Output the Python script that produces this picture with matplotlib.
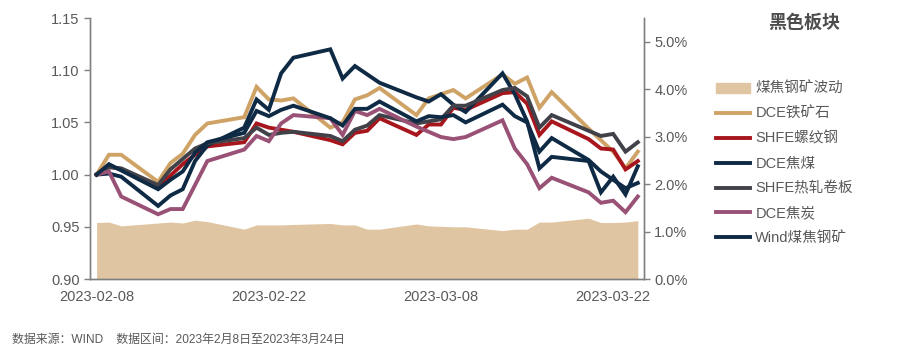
import matplotlib
matplotlib.use("Agg")
import matplotlib.pyplot as plt
import matplotlib.dates as mdates
from matplotlib.patches import Patch
import pandas as pd

plt.rcParams['font.family'] = ['Liberation Sans', 'Noto Sans CJK SC', 'DejaVu Sans']

dates = ["2023-02-08", "2023-02-09", "2023-02-10", "2023-02-13", "2023-02-14", "2023-02-15",
         "2023-02-16", "2023-02-17", "2023-02-20", "2023-02-21", "2023-02-22", "2023-02-23",
         "2023-02-24", "2023-02-27", "2023-02-28", "2023-03-01", "2023-03-02", "2023-03-03",
         "2023-03-06", "2023-03-07", "2023-03-08", "2023-03-09", "2023-03-10", "2023-03-13",
         "2023-03-14", "2023-03-15", "2023-03-16", "2023-03-17", "2023-03-20", "2023-03-21",
         "2023-03-22", "2023-03-23", "2023-03-24"]

# 煤焦钢矿波动 (%)
vol = [1.19, 1.20, 1.12, 1.18, 1.20, 1.18, 1.24, 1.21, 1.05, 1.14, 1.14, 1.14,
       1.15, 1.17, 1.14, 1.14, 1.05, 1.05, 1.16, 1.12, 1.11, 1.10, 1.10, 1.02,
       1.05, 1.05, 1.20, 1.20, 1.28, 1.19, 1.19, 1.20, 1.23]

iron_ore = [1.000, 1.019, 1.019, 0.993, 1.011, 1.020, 1.038, 1.049, 1.055, 1.084, 1.072, 1.071,
            1.073, 1.045, 1.050, 1.072, 1.076, 1.083, 1.057, 1.073, 1.077, 1.081, 1.073, 1.096,
            1.087, 1.093, 1.064, 1.079, 1.044, 1.033, 1.022, 1.006, 1.022]

rebar = [1.000, 1.008, 1.005, 0.988, 0.999, 1.010, 1.019, 1.027, 1.031, 1.049, 1.045, 1.043,
         1.041, 1.033, 1.029, 1.040, 1.042, 1.054, 1.038, 1.048, 1.048, 1.064, 1.062, 1.078,
         1.079, 1.068, 1.038, 1.051, 1.034, 1.025, 1.024, 1.005, 1.013]

coking_coal = [1.000, 1.001, 0.998, 0.970, 0.980, 0.986, 1.013, 1.028, 1.045, 1.072, 1.062, 1.097,
               1.112, 1.120, 1.092, 1.104, 1.096, 1.088, 1.074, 1.070, 1.077, 1.067, 1.060, 1.097,
               1.077, 1.051, 1.006, 1.017, 1.013, 0.983, 0.998, 0.981, 1.008]

hot_coil = [1.000, 1.007, 1.006, 0.990, 1.005, 1.015, 1.025, 1.030, 1.035, 1.045, 1.038, 1.040,
            1.041, 1.037, 1.032, 1.043, 1.047, 1.057, 1.049, 1.051, 1.053, 1.066, 1.066, 1.081,
            1.083, 1.075, 1.045, 1.057, 1.042, 1.037, 1.039, 1.022, 1.031]

coke = [1.000, 1.003, 0.979, 0.962, 0.967, 0.967, 0.990, 1.013, 1.024, 1.037, 1.032, 1.049,
        1.057, 1.054, 1.038, 1.061, 1.057, 1.063, 1.046, 1.041, 1.036, 1.034, 1.036, 1.052,
        1.025, 1.010, 0.987, 0.997, 0.983, 0.973, 0.975, 0.964, 0.979]

wind_index = [1.000, 1.010, 1.004, 0.986, 0.995, 1.003, 1.021, 1.031, 1.040, 1.061, 1.056, 1.062,
              1.066, 1.054, 1.047, 1.063, 1.063, 1.070, 1.051, 1.056, 1.055, 1.057, 1.050, 1.067,
              1.056, 1.050, 1.022, 1.035, 1.014, 1.003, 0.995, 0.987, 0.992]

x = pd.to_datetime(dates)

line_series = [
    ("DCE铁矿石", iron_ore, "#cfa266"),
    ("SHFE螺纹钢", rebar, "#a8161d"),
    ("DCE焦煤", coking_coal, "#0f2a44"),
    ("SHFE热轧卷板", hot_coil, "#414249"),
    ("DCE焦炭", coke, "#995276"),
    ("Wind煤焦钢矿", wind_index, "#0f2a44"),
]

txt = "#595959"
axc = "#808080"

fig = plt.figure(figsize=(8.97, 3.53), dpi=100)
ax = fig.add_axes([0.1003, 0.2096, 0.6176, 0.7394])
ax2 = ax.twinx()

ax2.fill_between(x, 0, [v / 100 for v in vol], color="#dfc5a1", lw=0)
ax2.set_ylim(0, 0.055)
ax2.set_yticks([0, 0.01, 0.02, 0.03, 0.04, 0.05])
ax2.yaxis.set_major_formatter(matplotlib.ticker.FuncFormatter(lambda v, p: f"{v*100:.1f}%"))

ax.set_zorder(ax2.get_zorder() + 1)
ax.patch.set_visible(False)

handles = [Patch(color="#dfc5a1", label="煤焦钢矿波动")]
for name, vals, col in line_series:
    h, = ax.plot(x, vals, color=col, lw=2.8, label=name, solid_joinstyle="miter")
    handles.append(h)

ax.set_ylim(0.90, 1.15)
ax.set_yticks([0.90, 0.95, 1.00, 1.05, 1.10, 1.15])
ax.yaxis.set_major_formatter(matplotlib.ticker.FormatStrFormatter("%.2f"))

ax.set_xlim(x[0] - pd.Timedelta(hours=13), x[-1] + pd.Timedelta(hours=12))
ax.set_xticks(pd.to_datetime(["2023-02-08", "2023-02-22", "2023-03-08", "2023-03-22"]))
ax.xaxis.set_major_formatter(mdates.DateFormatter("%Y-%m-%d"))

for a in (ax, ax2):
    a.spines["top"].set_visible(False)
    for s in ("left", "right", "bottom"):
        a.spines[s].set_color(axc)
        a.spines[s].set_linewidth(1)
    a.tick_params(axis="y", colors=axc, labelcolor=txt, labelsize=10.5, length=4.5, width=1, pad=3)
ax.tick_params(axis="x", length=0, labelcolor=txt, labelsize=10.5, pad=8)

fig.legend(handles=handles, loc="upper left", bbox_to_anchor=(716 / 897, 1 - 82 / 353),
           frameon=False, fontsize=10.5, labelcolor=txt, handlelength=2.35,
           handletextpad=0.35, labelspacing=0.74, borderpad=0, borderaxespad=0,
           handleheight=0.6)

fig.text(804 / 897, 1 - 23 / 353, "黑色板块", ha="center", va="center",
         fontsize=13, fontweight="bold", color="#4d4d4d")
fig.text(12 / 897, 1 - 340 / 353, "数据来源：WIND    数据区间：2023年2月8日至2023年3月24日",
         ha="left", va="center", fontsize=8.6, color=txt)

fig.savefig("out.png", dpi=100)
